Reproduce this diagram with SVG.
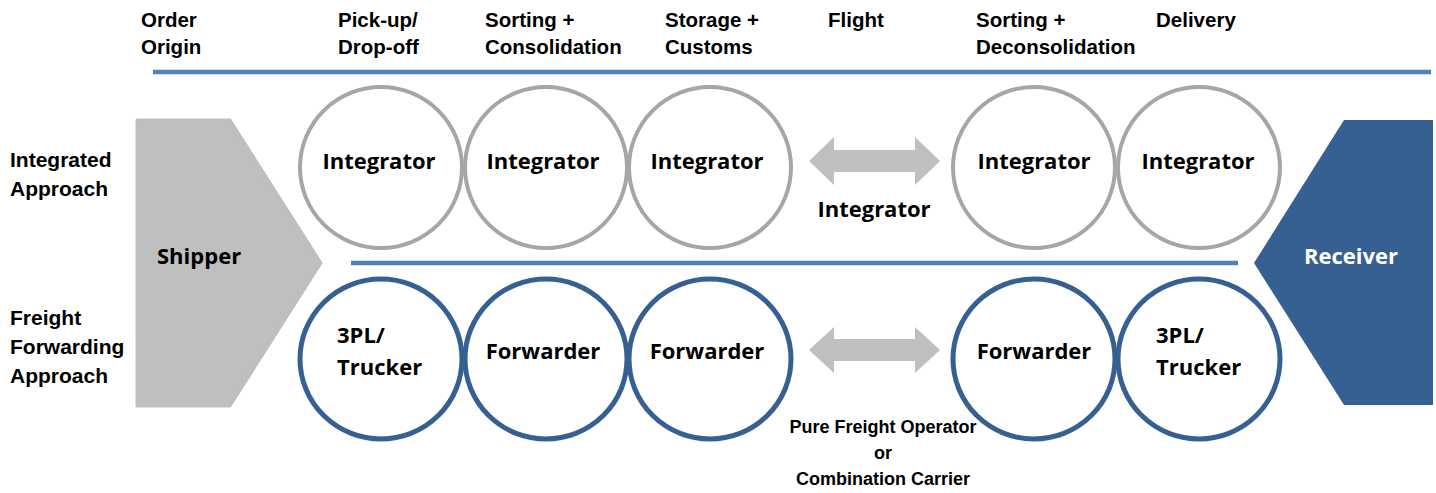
<svg xmlns="http://www.w3.org/2000/svg" width="1436" height="493" viewBox="0 0 1436 493">
<style>
.hdr{font-family:"Liberation Sans",Arial,sans-serif;font-weight:bold;font-size:20.5px;fill:#000}
.lbl{font-family:"Liberation Sans",Arial,sans-serif;font-weight:bold;font-size:21px;fill:#000}
.nt{font-family:"Open Sans","Liberation Sans",sans-serif;font-weight:bold;font-size:22px;fill:#000}
.cg{fill:#fff;stroke:#a6a6a6;stroke-width:4}
.cb{fill:#fff;stroke:#376092;stroke-width:5}
.sep{stroke:#4f81bd;stroke-width:4.5}
.arr{fill:#bfbfbf}
.cap{font-family:"Liberation Sans",Arial,sans-serif;font-weight:bold;font-size:18px;fill:#000}
</style>
<rect width="1436" height="493" fill="#fff"/>
<g id="headers" class="hdr">
<text x="141" y="27">Order</text><text x="141" y="54">Origin</text>
<text x="338" y="27">Pick-up/</text><text x="338" y="54">Drop-off</text>
<text x="485" y="27">Sorting +</text><text x="485" y="54">Consolidation</text>
<text x="665" y="27">Storage +</text><text x="665" y="54">Customs</text>
<text x="828" y="27">Flight</text>
<text x="976" y="27">Sorting +</text><text x="976" y="54">Deconsolidation</text>
<text x="1156" y="27">Delivery</text>
</g>
<g id="row-labels" class="lbl">
<text x="10" y="167">Integrated</text><text x="10" y="196">Approach</text>
<text x="10" y="325">Freight</text><text x="10" y="354">Forwarding</text><text x="10" y="383">Approach</text>
</g>
<g id="lines">
<line class="sep" x1="153" y1="72" x2="1431" y2="72"/>
<line class="sep" x1="351" y1="263" x2="1238" y2="263"/>
</g>
<g id="shipper">
<polygon points="137,120 230,120 321,263 230,406 137,406" fill="#bfbfbf" stroke="#bfbfbf" stroke-width="3" stroke-linejoin="round"/>
<text class="nt" x="157" y="264">Shipper</text>
</g>
<g id="receiver">
<polygon points="1344,120 1433,120 1433,405 1344,405 1254,263" fill="#376092"/>
<text class="nt" x="1351" y="264" text-anchor="middle" style="fill:#fff">Receiver</text>
</g>
<g id="int1"><ellipse class="cg" cx="381" cy="167.5" rx="81" ry="80.5"/><text class="nt" x="379" y="169" text-anchor="middle">Integrator</text></g>
<g id="int2"><ellipse class="cg" cx="546" cy="167.5" rx="81" ry="80.5"/><text class="nt" x="543" y="169" text-anchor="middle">Integrator</text></g>
<g id="int3"><ellipse class="cg" cx="710" cy="167.5" rx="81" ry="80.5"/><text class="nt" x="707" y="169" text-anchor="middle">Integrator</text></g>
<g id="int4"><ellipse class="cg" cx="1034" cy="167.5" rx="81" ry="80.5"/><text class="nt" x="1034" y="169" text-anchor="middle">Integrator</text></g>
<g id="int5"><ellipse class="cg" cx="1199" cy="167.5" rx="81" ry="80.5"/><text class="nt" x="1198" y="169" text-anchor="middle">Integrator</text></g>
<g id="ff1"><ellipse class="cb" cx="381" cy="359" rx="81" ry="80"/><text class="nt" x="337" y="343">3PL/</text><text class="nt" x="337" y="375">Trucker</text></g>
<g id="ff2"><ellipse class="cb" cx="546" cy="359" rx="81" ry="80"/><text class="nt" x="543" y="359" text-anchor="middle">Forwarder</text></g>
<g id="ff3"><ellipse class="cb" cx="710" cy="359" rx="81" ry="80"/><text class="nt" x="707" y="359" text-anchor="middle">Forwarder</text></g>
<g id="ff4"><ellipse class="cb" cx="1034" cy="359" rx="81" ry="80"/><text class="nt" x="1034" y="359" text-anchor="middle">Forwarder</text></g>
<g id="ff5"><ellipse class="cb" cx="1199" cy="359" rx="81" ry="80"/><text class="nt" x="1156" y="343">3PL/</text><text class="nt" x="1156" y="375">Trucker</text></g>
<g id="connectors">
<polygon class="arr" points="809,161 834,137 834,150 915,150 915,137 940,161 915,185 915,172 834,172 834,185"/>
<polygon class="arr" points="809,350 834,327 834,339 915,339 915,327 940,350 915,373 915,361 834,361 834,373"/>
</g>
<g id="flight-labels">
<text class="nt" x="874" y="217" text-anchor="middle">Integrator</text>
<g class="cap" text-anchor="middle">
<text x="883" y="433">Pure Freight Operator</text>
<text x="883" y="459">or</text>
<text x="883" y="485">Combination Carrier</text>
</g>
</g>
</svg>
